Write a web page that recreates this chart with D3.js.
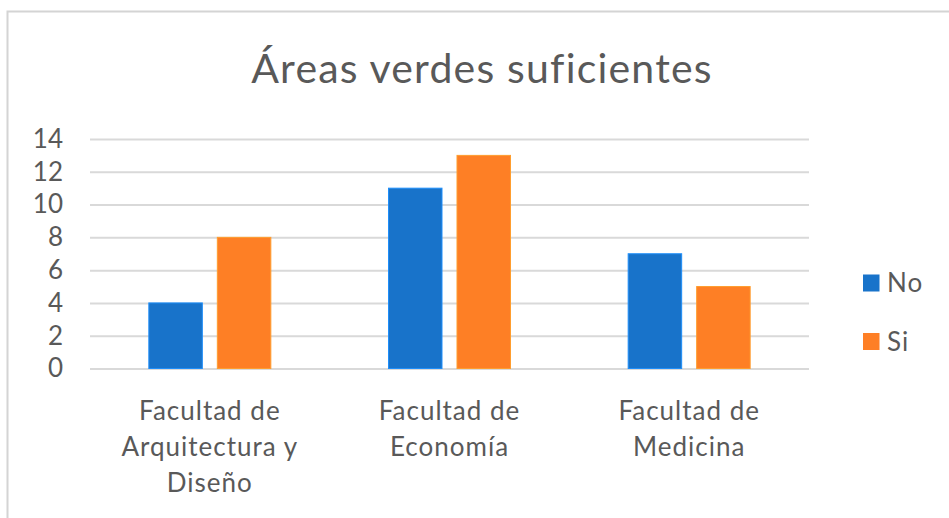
<!DOCTYPE html>
<html>
<head>
<meta charset="utf-8">
<script src="https://cdn.jsdelivr.net/npm/d3@7"></script>
<style>
  body { margin: 0; background: #fff; }
  text { font-family: Lato, "Open Sans", sans-serif; fill: #595959; }
</style>
</head>
<body>
<svg id="chart"></svg>
<script>
var title = "Áreas verdes suficientes";
var categories = ["Facultad de Arquitectura y Diseño", "Facultad de Economía", "Facultad de Medicina"];
var series = ["No", "Si"];
var valuesNo = [4, 11, 7];
var valuesSi = [8, 13, 5];
var yTicks = [0, 2, 4, 6, 8, 10, 12, 14];
var colors = {"No": "#1873CA", "Si": "#FE7F25"};

var width = 949, height = 518;
var plot = {left: 90, right: 809, top: 139, bottom: 368.5};

var svg = d3.select("#chart")
    .attr("width", width)
    .attr("height", height);

// chart frame
svg.append("rect")
    .attr("x", 7.5)
    .attr("y", 11.5)
    .attr("width", width)
    .attr("height", height)
    .attr("fill", "none")
    .attr("stroke", "#d4d4d4")
    .attr("stroke-width", 2);

svg.append("text")
    .attr("x", 482)
    .attr("y", 83)
    .attr("text-anchor", "middle")
    .style("font-size", "41px")
    .style("letter-spacing", "1.2px")
    .text(title);

var yScale = d3.scaleLinear()
    .domain([0, 14])
    .range([plot.bottom, plot.top]);

var x0 = d3.scaleBand()
    .domain(categories)
    .range([plot.left, plot.right])
    .padding(0);

var groupW = 122;
var x1 = d3.scaleBand()
    .domain(series)
    .range([(x0.bandwidth() - groupW) / 2, (x0.bandwidth() + groupW) / 2])
    .paddingInner(0.219)
    .paddingOuter(0);

// gridlines
var yAxis = svg.append("g")
    .attr("transform", "translate(" + plot.left + ",0)")
    .call(d3.axisLeft(yScale)
        .tickValues(yTicks)
        .tickSize(-(plot.right - plot.left))
        .tickPadding(27));
yAxis.select(".domain").remove();
yAxis.selectAll("line")
    .attr("stroke", "#d9d9d9")
    .attr("stroke-width", 2);
yAxis.selectAll("text")
    .style("font-size", "26px")
    .attr("fill", "#595959")
    .attr("font-family", "Lato, 'Open Sans', sans-serif");

var table = categories.map(function (c, i) {
    return {cat: c, bars: [{s: "No", v: valuesNo[i]}, {s: "Si", v: valuesSi[i]}]};
});

var groups = svg.selectAll(".grp")
    .data(table)
    .enter().append("g")
    .attr("class", "grp")
    .attr("transform", function (d) { return "translate(" + x0(d.cat) + ",0)"; });

groups.selectAll("rect")
    .data(function (d) { return d.bars; })
    .enter().append("rect")
    .attr("x", function (d) { return x1(d.s); })
    .attr("y", function (d) { return yScale(d.v); })
    .attr("width", x1.bandwidth())
    .attr("height", function (d) { return yScale(0) - yScale(d.v); })
    .attr("fill", function (d) { return colors[d.s]; })
    .attr("stroke", function (d) { return d3.color(colors[d.s]).brighter(0.6); })
    .attr("stroke-width", 1);

// category labels, wrapped like the original
function wrap(textSel, maxW) {
    textSel.each(function (d) {
        var t = d3.select(this);
        var words = d.split(" ");
        var lines = [], line = [];
        var probe = t.append("tspan");
        words.forEach(function (w) {
            line.push(w);
            probe.text(line.join(" "));
            if (probe.node().getComputedTextLength() > maxW && line.length > 1) {
                line.pop();
                lines.push(line.join(" "));
                line = [w];
            }
        });
        lines.push(line.join(" "));
        probe.remove();
        lines.forEach(function (l, i) {
            t.append("tspan")
                .attr("x", 0)
                .attr("dy", i == 0 ? 0 : 35.8)
                .text(l);
        });
    });
}

svg.selectAll(".cat")
    .data(categories)
    .enter().append("text")
    .attr("class", "cat")
    .attr("transform", function (d) { return "translate(" + (x0(d) + x0.bandwidth() / 2) + ",420)"; })
    .attr("text-anchor", "middle")
    .style("font-size", "26px")
    .style("letter-spacing", "1px")
    .call(wrap, 225);

// legend
var legend = svg.selectAll(".legend")
    .data(series)
    .enter().append("g")
    .attr("class", "legend")
    .attr("transform", function (d, i) { return "translate(863," + (274.5 + i * 58.5) + ")"; });

legend.append("rect")
    .attr("width", 16.5)
    .attr("height", 17)
    .attr("fill", function (d) { return colors[d]; });

legend.append("text")
    .attr("x", 24)
    .attr("y", 17.5)
    .style("font-size", "26px")
    .style("letter-spacing", "1px")
    .text(function (d) { return d; });
</script>
</body>
</html>
